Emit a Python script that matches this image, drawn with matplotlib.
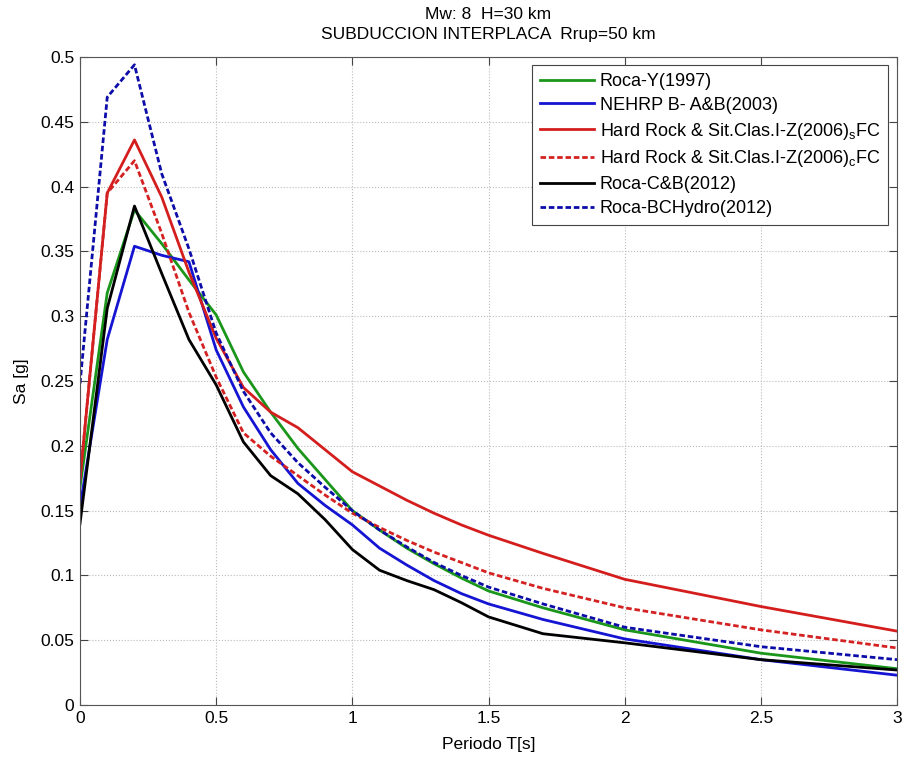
import matplotlib
matplotlib.use('Agg')
import matplotlib.pyplot as plt

plt.rcParams['font.family'] = ['Liberation Sans', 'DejaVu Sans']
plt.rcParams['mathtext.fontset'] = 'custom'
plt.rcParams['mathtext.rm'] = 'Liberation Sans'

# Periodos [s]
T = [0, 0.1, 0.2, 0.3, 0.4, 0.5, 0.6, 0.7, 0.8, 0.9, 1.0, 1.1, 1.2, 1.3, 1.4,
     1.5, 1.7, 2.0, 2.5, 3.0]

# Sa [g] por modelo
roca_y = [0.168, 0.318, 0.382, 0.356, 0.328, 0.301, 0.257, 0.226, 0.198, 0.174,
          0.150, 0.135, 0.121, 0.109, 0.098, 0.088, 0.075, 0.058, 0.040, 0.028]
nehrp_ab = [0.153, 0.282, 0.354, 0.347, 0.342, 0.274, 0.230, 0.197, 0.171, 0.154,
            0.139, 0.121, 0.108, 0.096, 0.086, 0.078, 0.066, 0.051, 0.035, 0.023]
zhao_s = [0.174, 0.395, 0.436, 0.392, 0.334, 0.283, 0.245, 0.226, 0.214, 0.197,
          0.180, 0.169, 0.158, 0.148, 0.139, 0.131, 0.117, 0.097, 0.076, 0.057]
zhao_c = [0.174, 0.395, 0.420, 0.364, 0.303, 0.253, 0.210, 0.192, 0.177, 0.162,
          0.148, 0.137, 0.127, 0.118, 0.110, 0.102, 0.090, 0.075, 0.058, 0.044]
cb_2012 = [0.140, 0.306, 0.385, 0.333, 0.282, 0.247, 0.203, 0.177, 0.163, 0.143,
           0.120, 0.104, 0.096, 0.089, 0.079, 0.068, 0.055, 0.048, 0.035, 0.027]
bchydro = [0.248, 0.469, 0.494, 0.410, 0.352, 0.287, 0.242, 0.210, 0.187, 0.168,
           0.150, 0.135, 0.122, 0.110, 0.100, 0.091, 0.078, 0.060, 0.045, 0.035]

labels = ['Roca-Y(1997)',
          'NEHRP B- A&B(2003)',
          r'Hard Rock & Sit.Clas.I-Z(2006)$_{\mathregular{s}}$FC',
          r'Hard Rock & Sit.Clas.I-Z(2006)$_{\mathregular{c}}$FC',
          'Roca-C&B(2012)',
          'Roca-BCHydro(2012)']

fig = plt.figure(figsize=(9.06, 7.58), dpi=100)
ax = fig.add_axes([0.0883, 0.0699, 0.9018, 0.8549])

lw = 2.0
ax.plot(T, roca_y, color='#1a961a', lw=lw, label=labels[0])
ax.plot(T, nehrp_ab, color='#1414d2', lw=lw, label=labels[1])
ax.plot(T, zhao_s, color='#d41e1e', lw=lw, label=labels[2])
ax.plot(T, zhao_c, color='#d42222', lw=lw, ls=(0, (2, 1)), label=labels[3])
ax.plot(T, cb_2012, color='black', lw=lw, label=labels[4])
ax.plot(T, bchydro, color='#0c0ca8', lw=lw, ls=(0, (2, 1)), label=labels[5])

ax.set_xlim(0, 3)
ax.set_ylim(0, 0.5)
ax.set_xticks([0, 0.5, 1, 1.5, 2, 2.5, 3])
ax.set_xticklabels(['0', '0.5', '1', '1.5', '2', '2.5', '3'])
ax.set_yticks([i * 0.05 for i in range(11)])
ax.set_yticklabels(['0', '0.05', '0.1', '0.15', '0.2', '0.25', '0.3', '0.35',
                    '0.4', '0.45', '0.5'])
ax.tick_params(direction='in', top=True, right=True, labelsize=12.5,
               length=6, width=0.8, color='#444444', pad=4)
for s in ax.spines.values():
    s.set_color('#555555')
    s.set_linewidth(0.8)
ax.grid(True, ls=':', color='#bbbbbb', lw=0.8)

ax.set_xlabel('Periodo T[s]', fontsize=12.5, labelpad=8)
ax.set_ylabel('Sa [g]', fontsize=12.5, labelpad=8)
ax.set_title('Mw: 8  H=30 km\nSUBDUCCION INTERPLACA  Rrup=50 km', fontsize=12.5,
             linespacing=1.4, pad=13)

leg = ax.legend(loc='upper right', bbox_to_anchor=(0.989, 0.988), borderaxespad=0,
                fontsize=13, handlelength=3.0, handletextpad=0.3, labelspacing=0.38,
                borderpad=0.45, fancybox=False, framealpha=1)
leg.get_frame().set_edgecolor('#444444')
leg.get_frame().set_linewidth(0.8)

fig.savefig('out.png', dpi=100)
